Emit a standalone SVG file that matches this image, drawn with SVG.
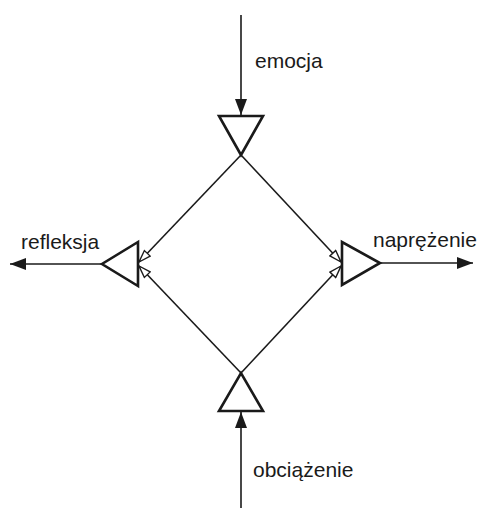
<svg xmlns="http://www.w3.org/2000/svg" width="481" height="508" viewBox="0 0 481 508">
<defs>
<style>
.tri{fill:none;stroke:#1a1a1a;stroke-width:2.6;stroke-linejoin:miter}
.ln{stroke:#1a1a1a;stroke-width:1.6;fill:none}
.lbl{font-family:"Liberation Sans",Arial,sans-serif;font-size:21px;fill:#1a1a1a}
</style>
<marker id="solid" viewBox="0 0 16 12" refX="16" refY="6" markerWidth="16" markerHeight="12" markerUnits="userSpaceOnUse" orient="auto">
<path d="M0,0 L16,6 L0,12 Z" fill="#1a1a1a"/>
</marker>
<marker id="hollow" viewBox="0 0 14 10" refX="13" refY="5" markerWidth="14" markerHeight="10" markerUnits="userSpaceOnUse" orient="auto">
<path d="M1,1 L13,5 L1,9 Z" fill="#fff" stroke="#1a1a1a" stroke-width="1.4"/>
</marker>
</defs>
<rect width="481" height="508" fill="#fff"/>
<g id="connectors">
<line class="ln" x1="241" y1="15" x2="241" y2="115" marker-end="url(#solid)"/>
<line class="ln" x1="241" y1="508" x2="241" y2="412" marker-end="url(#solid)"/>
<line class="ln" x1="102" y1="264" x2="10" y2="264" marker-end="url(#solid)"/>
<line class="ln" x1="380" y1="263" x2="473" y2="263" marker-end="url(#solid)"/>
<line class="ln" x1="241" y1="155" x2="139" y2="262" marker-end="url(#hollow)"/>
<line class="ln" x1="241" y1="373" x2="139" y2="266" marker-end="url(#hollow)"/>
<line class="ln" x1="241" y1="155" x2="341" y2="262" marker-end="url(#hollow)"/>
<line class="ln" x1="241" y1="373" x2="341" y2="266" marker-end="url(#hollow)"/>
</g>
<g id="emocja">
<polygon class="tri" points="219,116 263,116 241,155"/>
<text class="lbl" x="255" y="68">emocja</text>
</g>
<g id="refleksja">
<polygon class="tri" points="138,242 138,286 102,264"/>
<text class="lbl" x="21" y="249">refleksja</text>
</g>
<g id="naprezenie">
<polygon class="tri" points="342,242 342,285 380,263"/>
<text class="lbl" x="373" y="247">naprężenie</text>
</g>
<g id="obciazenie">
<polygon class="tri" points="219,411 263,411 241,373"/>
<text class="lbl" x="253" y="477">obciążenie</text>
</g>
</svg>
